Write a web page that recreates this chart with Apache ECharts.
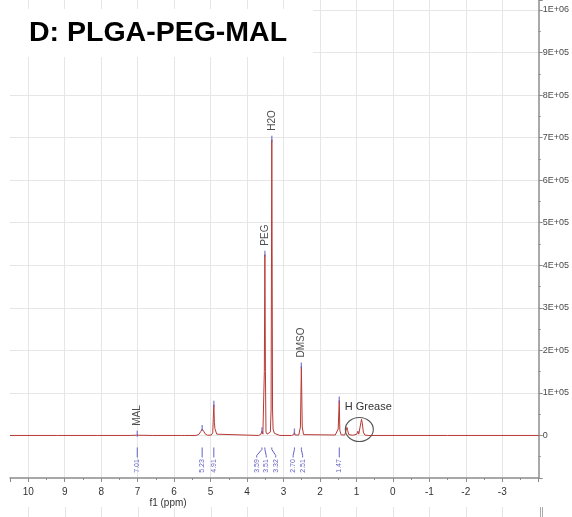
<!DOCTYPE html>
<html>
<head>
<meta charset="utf-8">
<title>D: PLGA-PEG-MAL</title>
<script src="https://cdn.jsdelivr.net/npm/echarts@6/dist/echarts.min.js"></script>
<style>
  html, body { margin: 0; padding: 0; background: #fff; }
  #chart { width: 572px; height: 517px; }
</style>
</head>
<body>
<div id="chart"></div>
<script>
// 1H NMR spectrum of PLGA-PEG-MAL (f1 in ppm, intensity on the right axis)

// spectrum trace: chemical shift (ppm) and intensity
const shiftPpm = [
  10.5, 9.2, 8.1, 7.2, 7.03, 7.01, 6.99, 6.6, 5.8, 5.76, 5.72,
  5.4, 5.32, 5.27, 5.23, 5.19, 5.14, 5.08, 4.98, 4.94, 4.925, 4.91, 4.895,
  4.88, 4.86, 4.83, 4.78, 3.68, 3.62, 3.59, 3.565, 3.54, 3.525, 3.51, 3.495,
  3.48, 3.45, 3.40, 3.36, 3.34, 3.32, 3.30, 3.285, 3.27, 3.25, 3.2, 3.1,
  2.78, 2.72, 2.70, 2.68, 2.58, 2.535, 2.51, 2.485, 2.45, 1.58, 1.5, 1.47,
  1.455, 1.42, 1.32, 1.26, 1.24, 1.21, 1.1, 0.99, 0.96, 0.935, 0.89, 0.86,
  0.84, 0.81, 0.77, 0.68, -1.5, -4
];
const intensity = [
  0, 0, 0, 0, 600, 1500, 600, 0, 0, 2500, 0,
  0, 2500, 9000, 15000, 10000, 3000, 500, 1000, 6000, 40000, 72000, 30000,
  16000, 12000, 3000, 0, 0, 3000, 10000, 3000, 6000, 150000, 425000, 150000,
  8000, 3000, 3000, 8000, 60000, 695000, 60000, 15000, 16000, 5000, 1000, 0,
  0, 2000, 7000, 1000, 1000, 20000, 162000, 20000, 2000, 1000, 15000, 82000,
  12000, 1500, 1000, 19000, 12000, 2000, 500, 3000, 10000, 3000, 5000, 38000,
  30000, 8000, 1000, 0, 0, 0
];

// picked peaks: shift (ppm) and top intensity
const pickPpm = [7.01, 5.23, 4.91, 3.59, 3.51, 3.32, 2.70, 2.51, 1.47];
const pickHeight = [1500, 15000, 72000, 10000, 425000, 695000, 7000, 162000, 82000];

// assigned signals
const assignNames = ['MAL', 'PEG', 'H2O', 'DMSO'];
const assignPpm = [7.01, 3.51, 3.32, 2.51];
const assignHeight = [1500, 425000, 695000, 162000];

// axis tick values
const ppmTicks = [10, 9, 8, 7, 6, 5, 4, 3, 2, 1, 0, -1, -2, -3];
const intensityTicks = [0, 1e5, 2e5, 3e5, 4e5, 5e5, 6e5, 7e5, 8e5, 9e5, 1e6];

const chart = echarts.init(document.getElementById('chart'), null, { renderer: 'canvas' });

const BLUE = '#6262c6';
const RED = '#b83a34';
const GRID = '#e6e6e6';
const AXIS = '#8c8c8c';

function sciLabel(v) {
  if (v === 0) return '0';
  const e = Math.floor(Math.log10(Math.abs(v)) + 1e-9);
  const m = Math.round(v / Math.pow(10, e));
  return m + 'E+' + (e < 10 ? '0' + e : e);
}

// spread crowded integral labels apart by a minimum pixel gap
function spreadLabels(xs, gap) {
  const order = xs.map((x, i) => i).sort((a, b) => xs[a] - xs[b]);
  let clusters = order.map(i => ({ ids: [i], center: xs[i] }));
  let merged = true;
  while (merged) {
    merged = false;
    for (let k = 0; k < clusters.length - 1; k++) {
      const a = clusters[k], b = clusters[k + 1];
      const aEnd = a.center + (a.ids.length - 1) * gap / 2;
      const bStart = b.center - (b.ids.length - 1) * gap / 2;
      if (bStart - aEnd < gap) {
        const ids = a.ids.concat(b.ids);
        const center = ids.reduce((s, i) => s + xs[i], 0) / ids.length;
        clusters.splice(k, 2, { ids, center });
        merged = true;
        break;
      }
    }
  }
  const out = [];
  clusters.forEach(c => c.ids.forEach((id, j) => {
    out[id] = c.center + (j - (c.ids.length - 1) / 2) * gap;
  }));
  return out;
}

const option = {
  animation: false,
  backgroundColor: '#fff',
  grid: { left: 10, right: 33, top: 0, bottom: 39, containLabel: false },
  xAxis: {
    type: 'value',
    inverse: true,
    min: -4,
    max: 10.5,
    interval: 1,
    axisLine: { onZero: false, lineStyle: { color: AXIS, width: 1.5 } },
    axisTick: { show: true, length: 4, lineStyle: { color: AXIS } },
    minorTick: { show: true, splitNumber: 2, length: 2, lineStyle: { color: AXIS } },
    axisLabel: {
      showMinLabel: false, showMaxLabel: false,
      color: '#333', fontSize: 10, margin: 9,
      fontFamily: '"Liberation Sans", Arial, sans-serif',
      formatter: v => (ppmTicks.indexOf(v) >= 0 ? String(v) : '')
    },
    splitLine: { show: true, showMinLine: false, showMaxLine: false, lineStyle: { color: GRID, width: 1 } },
    minorSplitLine: { show: false }
  },
  yAxis: {
    type: 'value',
    position: 'right',
    min: -1e5,
    max: 1.0235e6,
    interval: 1e5,
    axisLine: { show: true, onZero: false, lineStyle: { color: AXIS, width: 1.5 } },
    axisTick: { show: true, length: 4, lineStyle: { color: AXIS } },
    minorTick: { show: true, splitNumber: 2, length: 2, lineStyle: { color: AXIS } },
    axisLabel: {
      showMinLabel: false, showMaxLabel: false,
      color: '#4a4a4a', fontSize: 9, margin: 4,
      fontFamily: '"Liberation Sans", Arial, sans-serif',
      formatter: v => (intensityTicks.indexOf(v) >= 0 ? sciLabel(v) : '')
    },
    splitLine: { show: true, showMinLine: false, showMaxLine: false, lineStyle: { color: GRID, width: 1 } }
  },
  series: [
    {
      name: 'spectrum',
      type: 'line',
      data: shiftPpm.map((p, i) => [p, intensity[i]]),
      showSymbol: false,
      symbol: 'none',
      lineStyle: { color: RED, width: 1 },
      z: 3,
      silent: true
    },
    {
      name: 'peak picks',
      type: 'scatter',
      data: pickPpm.map((p, i) => [p, pickHeight[i]]),
      symbol: 'rect',
      symbolSize: [1.3, 6],
      symbolOffset: [0, -1],
      itemStyle: { color: BLUE },
      z: 4,
      silent: true
    },
    {
      name: 'assignments',
      type: 'scatter',
      data: assignPpm.map((p, i) => ({ value: [p, assignHeight[i]], name: assignNames[i] })),
      symbolSize: 0,
      z: 5,
      silent: true,
      label: {
        show: true,
        formatter: '{b}',
        position: 'top',
        distance: 9,
        rotate: 90,
        align: 'left',
        verticalAlign: 'middle',
        color: '#222',
        fontSize: 10,
        fontFamily: '"Liberation Sans", Arial, sans-serif'
      }
    },
    {
      name: 'integrals',
      type: 'custom',
      data: pickPpm.map(p => [p, 0]),
      encode: { x: 0, y: 1 },
      silent: true,
      z: 4,
      renderItem: function (params, api) {
        const i = params.dataIndex;
        const xs = pickPpm.map(p => api.coord([p, 0])[0]);
        const lx = spreadLabels(xs, 9.5);
        const y0 = api.coord([0, 0])[1];
        const px = xs[i];
        const qx = lx[i];
        const pts = Math.abs(px - qx) < 0.5
          ? [[px, y0 + 12], [px, y0 + 22]]
          : [[px, y0 + 12], [px, y0 + 14], [qx, y0 + 20], [qx, y0 + 22]];
        return {
          type: 'group',
          children: [
            { type: 'polyline', shape: { points: pts }, style: { stroke: BLUE, lineWidth: 1, fill: null } },
            {
              type: 'text',
              x: qx, y: y0 + 30.5,
              rotation: Math.PI / 2,
              style: {
                text: pickPpm[i].toFixed(2),
                fill: BLUE,
                fontSize: 7,
                fontFamily: '"Liberation Sans", Arial, sans-serif',
                align: 'center',
                verticalAlign: 'middle'
              }
            }
          ]
        };
      }
    }
  ]
};

chart.setOption(option);

// annotations placed on the data grid
const toPx = (ppm, val) => chart.convertToPixel({ gridIndex: 0 }, [ppm, val]);
const greaseCenter = toPx(0.92, 14000);
const greaseText = toPx(1.32, 68000);
const bottomY = chart.getHeight();
const stubs = ppmTicks.map(t => {
  const x = Math.round(toPx(t, 0)[0]) + 0.5;
  return { type: 'line', shape: { x1: x, y1: bottomY - 10, x2: x, y2: bottomY }, style: { stroke: '#e4e4e4', lineWidth: 1 }, silent: true };
});
const edgeX = Math.round(toPx(-4, 0)[0]) + 1.5;

chart.setOption({
  graphic: [
    { type: 'rect', shape: { x: 0, y: 9, width: 313, height: 48 }, style: { fill: '#fff' }, z: 10, silent: true },
    {
      type: 'text', x: 29, y: 33.5, z: 11, silent: true,
      style: {
        text: 'D: PLGA-PEG-MAL', fill: '#000',
        fontSize: 28.5, fontWeight: 'bold',
        fontFamily: '"Liberation Sans", Arial, sans-serif',
        verticalAlign: 'middle'
      }
    },
    {
      type: 'ellipse', z: 6, silent: true,
      shape: { cx: greaseCenter[0], cy: greaseCenter[1], rx: 14, ry: 12 },
      style: { fill: null, stroke: '#555', lineWidth: 1.1 }
    },
    {
      type: 'text', x: greaseText[0], y: greaseText[1], z: 6, silent: true,
      style: {
        text: 'H Grease', fill: '#333', fontSize: 11,
        fontFamily: '"Liberation Sans", Arial, sans-serif',
        verticalAlign: 'middle'
      }
    },
    {
      type: 'text', x: 168, y: 503, z: 6, silent: true,
      style: {
        text: 'f1 (ppm)', fill: '#333', fontSize: 10,
        fontFamily: '"Liberation Sans", Arial, sans-serif',
        align: 'center', verticalAlign: 'middle'
      }
    },
    ...stubs,
    { type: 'line', shape: { x1: edgeX, y1: bottomY - 10, x2: edgeX, y2: bottomY }, style: { stroke: '#aaa', lineWidth: 1 }, silent: true },
    { type: 'line', shape: { x1: edgeX + 2, y1: bottomY - 10, x2: edgeX + 2, y2: bottomY }, style: { stroke: '#aaa', lineWidth: 1 }, silent: true }
  ]
});
</script>
</body>
</html>
